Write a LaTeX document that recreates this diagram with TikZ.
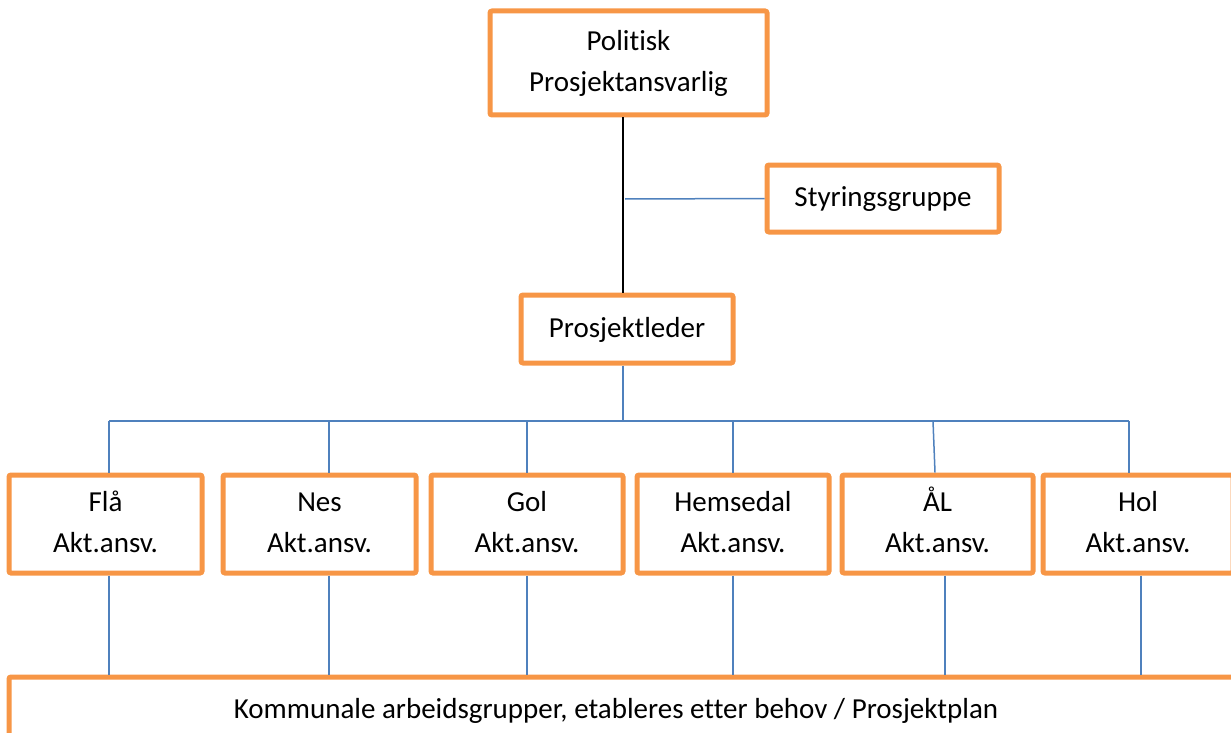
\documentclass[tikz,border=0pt]{standalone}
\usepackage{fontspec}
\setmainfont{Carlito}[RawFeature=-liga]
\definecolor{boxorange}{HTML}{F79646}
\definecolor{linkblue}{HTML}{4F81BD}
\begin{document}
\begin{tikzpicture}[x=1pt,y=-1pt,
  orgbox/.style={draw=boxorange, line width=5pt, rounded corners=2pt, fill=white,
    inner sep=0pt, align=center, font=\fontsize{29}{41}\selectfont},
  bl/.style={draw=linkblue, line width=1.5pt},
  bk/.style={draw=black, line width=2pt},
  lbl/.style={inner sep=0pt, font=\fontsize{29}{41}\selectfont}]
\useasboundingbox (0,0) rectangle (1231,733);
\clip (0,0) rectangle (1231,733);

\coordinate (sp) at (623,199);
\coordinate (bus) at (623,421);

\node[orgbox, minimum width=277pt, minimum height=104pt] (top) at (628.5,63) {Politisk\strut\\Prosjektansvarlig\strut};
\node[orgbox, minimum width=232pt, minimum height=67pt] (sty) at (883,198.5) {Styringsgruppe\strut};
\node[orgbox, minimum width=212pt, minimum height=68pt] (pl) at (627,329) {Prosjektleder\strut};

\node[orgbox, minimum width=193pt, minimum height=98pt] (fla) at (105.5,524) {Flå\strut\\Akt.ansv.\strut};
\node[orgbox, minimum width=193pt, minimum height=98pt] (nes) at (319.5,524) {Nes\strut\\Akt.ansv.\strut};
\node[orgbox, minimum width=192pt, minimum height=98pt] (gol) at (527,524) {Gol\strut\\Akt.ansv.\strut};
\node[orgbox, minimum width=192pt, minimum height=98pt] (hem) at (733,524) {Hemsedal\strut\\Akt.ansv.\strut};
\node[orgbox, minimum width=191pt, minimum height=98pt] (al) at (937.5,524) {ÅL\strut\\Akt.ansv.\strut};
\node[orgbox, minimum width=190pt, minimum height=98pt] (hol) at (1138,524) {Hol\strut\\Akt.ansv.\strut};

\node[orgbox, minimum width=1231pt, minimum height=103pt] (kom) at (624.5,728.5) {};
\node[lbl] (komtext) at (616,711) {Kommunale arbeidsgrupper, etableres etter behov / Prosjektplan};

% top spine
\draw[bk] ([xshift=-5.5pt]top.south) -- ([xshift=-4pt]pl.north);
\draw[bl] ([xshift=2pt]sp) -- (sty.west);

% bus
\draw[bl] ([xshift=-4pt]pl.south) -- (bus);
\draw[bl] ([xshift=3.5pt]fla.north |- bus) -- ([xshift=-9pt]hol.north |- bus);
\draw[bl] ([xshift=3.5pt]fla.north |- bus) -- ([xshift=3.5pt]fla.north);
\draw[bl] ([xshift=9.5pt]nes.north |- bus) -- ([xshift=9.5pt]nes.north);
\draw[bl] (gol.north |- bus) -- (gol.north);
\draw[bl] (hem.north |- bus) -- (hem.north);
\draw[bl] ([xshift=-4.5pt]al.north |- bus) -- ([xshift=-2.5pt]al.north);
\draw[bl] ([xshift=-9pt]hol.north |- bus) -- ([xshift=-9pt]hol.north);

% lower connectors
\draw[bl] ([xshift=3.5pt]fla.south) -- ([xshift=3.5pt]fla.south |- kom.north);
\draw[bl] ([xshift=9.5pt]nes.south) -- ([xshift=9.5pt]nes.south |- kom.north);
\draw[bl] (gol.south) -- (gol.south |- kom.north);
\draw[bl] (hem.south) -- (hem.south |- kom.north);
\draw[bl] ([xshift=7.5pt]al.south) -- ([xshift=7.5pt]al.south |- kom.north);
\draw[bl] ([xshift=3pt]hol.south) -- ([xshift=3pt]hol.south |- kom.north);
\end{tikzpicture}
\end{document}
